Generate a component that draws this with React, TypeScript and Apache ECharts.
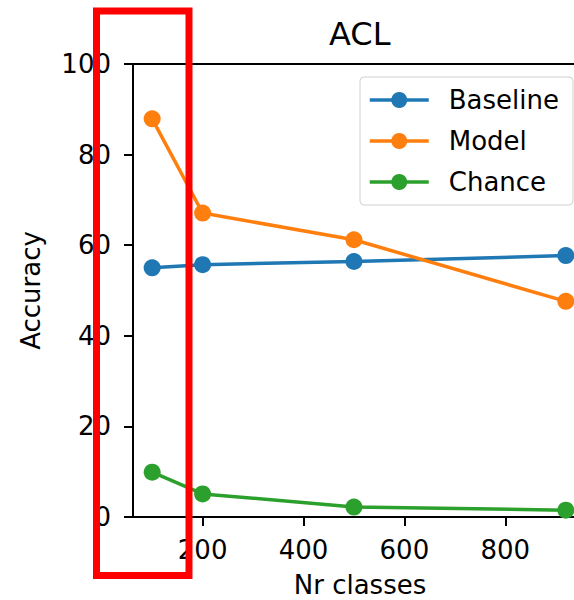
import React, { useEffect, useRef } from "react";
import * as echarts from "echarts";

const nrClasses = [100, 200, 500, 920];
const baseline = [55.0, 55.7, 56.4, 57.7];
const model = [87.9, 67.1, 61.2, 47.6];
const chance = [9.9, 5.1, 2.2, 1.5];
const xTicks = [200, 400, 600, 800];
const seriesNames = ["Baseline", "Model", "Chance"];
const colors = ["#1f77b4", "#ff7f0e", "#2ca02c"];

const FONT = "DejaVu Sans";

export default function App() {
  const ref = useRef<HTMLDivElement>(null);
  useEffect(() => {
    if (!ref.current) return;
    const chart = echarts.init(ref.current, undefined, { renderer: "svg" });
    const seriesData = [baseline, model, chance];
    chart.setOption({
      animation: false,
      backgroundColor: "#ffffff",
      title: {
        text: "ACL",
        left: 324,
        top: 13,
        textStyle: { fontFamily: FONT, fontSize: 32, fontWeight: "normal", color: "#000" },
      },
      legend: {
        left: 360,
        top: 77,
        orient: "vertical",
        padding: [10, 14, 10, 8],
        itemGap: 15,
        itemWidth: 59,
        itemHeight: 20,
        backgroundColor: "rgba(255,255,255,0.8)",
        borderColor: "#d0d0d0",
        borderWidth: 1,
        borderRadius: 4,
        data: seriesNames,
        lineStyle: { width: 3.5 },
        textStyle: { fontFamily: FONT, fontSize: 26, color: "#000", padding: [0, 0, 0, 15] },
      },
      grid: { left: 133, top: 64, width: 454, height: 453, outerBoundsMode: "none", containLabel: false },
      xAxis: {
        type: "value",
        min: 62,
        max: 962,
        name: "Nr classes",
        nameLocation: "middle",
        nameGap: 55,
        nameTextStyle: { fontFamily: FONT, fontSize: 26, color: "#000" },
        axisLine: { show: true, lineStyle: { color: "#000", width: 2 } },
        axisTick: { show: true, length: 9, inside: false, customValues: xTicks, lineStyle: { color: "#000", width: 2 } },
        axisLabel: { customValues: xTicks, margin: 20, fontFamily: FONT, fontSize: 26, color: "#000" },
        splitLine: { show: false },
      },
      yAxis: {
        type: "value",
        min: 0,
        max: 100,
        interval: 20,
        name: "Accuracy",
        nameLocation: "middle",
        nameGap: 89,
        nameTextStyle: { fontFamily: FONT, fontSize: 26, color: "#000" },
        axisLine: { show: true, lineStyle: { color: "#000", width: 2 } },
        axisTick: { show: true, length: 9, inside: false, lineStyle: { color: "#000", width: 2 } },
        axisLabel: { margin: 22, fontFamily: FONT, fontSize: 26, color: "#000" },
        splitLine: { show: false },
      },
      graphic: [
        {
          type: "line",
          shape: { x1: 133, y1: 64, x2: 600, y2: 64 },
          style: { stroke: "#000", lineWidth: 2 },
          z: 5,
        },
        {
          type: "rect",
          shape: { x: 96.5, y: 11, width: 92.5, height: 564.5 },
          style: { fill: "none", stroke: "#ff0000", lineWidth: 7 },
          z: 100,
        },
      ],
      series: seriesNames.map((name, i) => ({
        name,
        type: "line",
        data: nrClasses.map((x, j) => [x, seriesData[i][j]]),
        symbol: "circle",
        symbolSize: 17,
        showSymbol: true,
        clip: false,
        itemStyle: { color: colors[i] },
        lineStyle: { color: colors[i], width: 3.5 },
      })),
    });
    return () => chart.dispose();
  }, []);
  return (
    <div
      ref={ref}
      style={{ position: "fixed", left: 0, top: 0, width: 574, height: 600, background: "#fff" }}
    />
  );
}
